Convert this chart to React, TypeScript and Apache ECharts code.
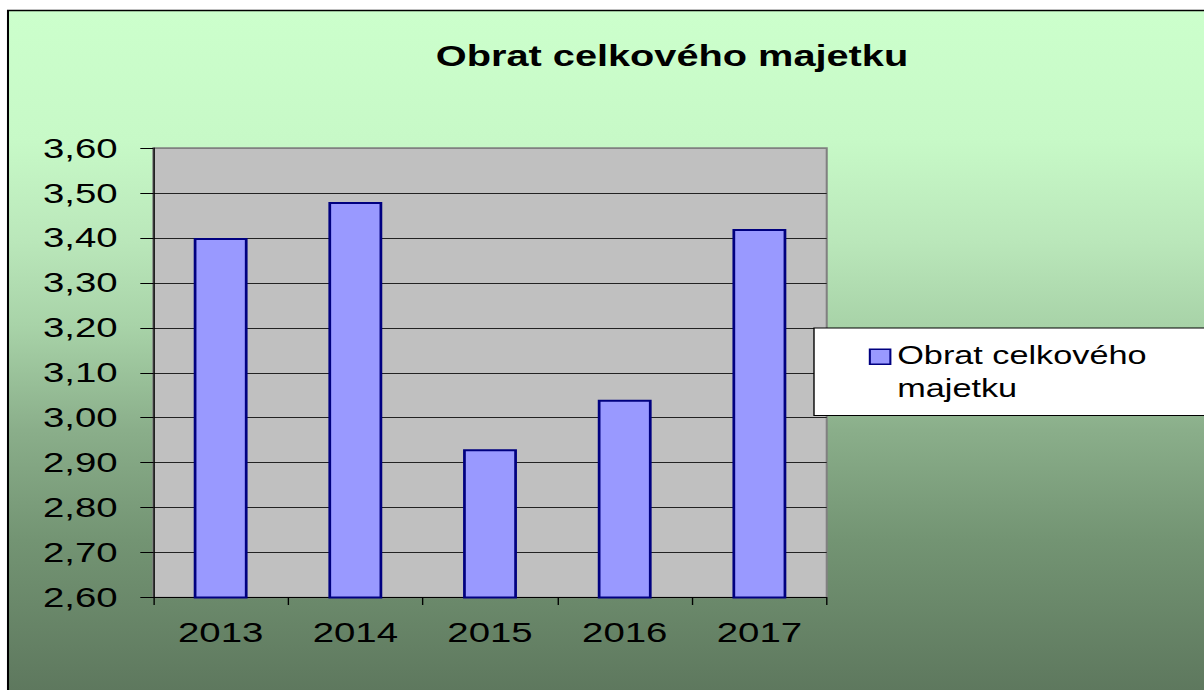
import React, { useEffect, useRef } from "react";
import * as echarts from "echarts";

const categories: string[] = ["2013", "2014", "2015", "2016", "2017"];
const seriesName = "Obrat celkového majetku";
const values: number[] = [3.4, 3.48, 2.93, 3.04, 3.42];
const titleText = "Obrat celkového majetku";
const yMin = 2.6;
const yMax = 3.6;
const yInterval = 0.1;

const S = 1.37; // horizontal stretch of the original picture
const PAGE_W = 1204;
const PAGE_H = 690;
const W = PAGE_W / S;

export default function App() {
  const ref = useRef<HTMLDivElement>(null);
  useEffect(() => {
    if (!ref.current) return;
    const chart = echarts.init(ref.current, null, { renderer: "svg" });
    const font = 'Arial, "Liberation Sans", sans-serif';
    const splitColors = [
      "#222", "#222", "#222", "#222", "#222", "#222", "#222", "#222", "#222", "#222", "#808080",
    ];
    const bg = new echarts.graphic.LinearGradient(0, 0, 0, 1, [
      { offset: 0, color: "#CCFFCC" },
      { offset: 0.186, color: "#C7F9C7" },
      { offset: 0.329, color: "#BAE7BA" },
      { offset: 0.45, color: "#A8D3A8" },
      { offset: 0.6, color: "#8AAE8A" },
      { offset: 0.757, color: "#739473" },
      { offset: 0.971, color: "#5E785E" },
      { offset: 1, color: "#5E785E" },
    ]);
    chart.setOption({
      animation: false,
      textStyle: { fontFamily: font },
      graphic: [
        {
          type: "rect",
          z: -10,
          silent: true,
          shape: { x: 8 / S, y: 10.5, width: 1000, height: 700 },
          style: { fill: bg, stroke: "#000", lineWidth: 1.5 },
        },
      ],
      title: {
        text: titleText,
        left: 672 / S,
        top: 41.5,
        padding: 0,
        textAlign: "center",
        textStyle: { fontFamily: font, fontSize: 29, fontWeight: "bold", color: "#000" },
      },
      legend: {
        show: true,
        left: 814 / S,
        top: 328,
        padding: [11, 80, 11, 40],
        backgroundColor: "#FFFFFF",
        borderColor: "#000",
        borderWidth: 1,
        borderRadius: 0,
        icon: "path://M0,0H15V15H0Z M0,45",
        itemWidth: 15,
        itemHeight: 45,
        itemStyle: { color: "#9999FF", borderColor: "#000080", borderWidth: 1.5 },
        formatter: (name: string) => name.replace(" majetku", "\nmajetku"),
        textStyle: { fontFamily: font, fontSize: 25, color: "#000", lineHeight: 32.7 },
        data: [seriesName],
      },
      grid: {
        left: 153.3 / S,
        right: W - 826.5 / S,
        top: 148,
        bottom: PAGE_H - 597.5,
        show: true,
        backgroundColor: "#C0C0C0",
        borderColor: "#808080",
        borderWidth: 1.5,
        containLabel: false,
        outerBoundsMode: "none",
      },
      xAxis: {
        type: "category",
        data: categories,
        boundaryGap: true,
        axisLine: { show: true, lineStyle: { color: "#000", width: 1 } },
        axisTick: { show: true, interval: 0, alignWithLabel: false, length: 7.5, lineStyle: { color: "#000", width: 1 } },
        axisLabel: { color: "#000", fontSize: 28, fontFamily: font, margin: 21, interval: 0 },
        splitLine: { show: false },
      },
      yAxis: {
        type: "value",
        min: yMin,
        max: yMax,
        interval: yInterval,
        axisLine: { show: true, lineStyle: { color: "#000", width: 1 } },
        axisTick: { show: true, length: 13 / S, lineStyle: { color: "#000", width: 1 } },
        axisLabel: {
          color: "#000",
          fontSize: 28,
          fontFamily: font,
          margin: 26,
          formatter: (v: number) => v.toFixed(2).replace(".", ","),
        },
        splitLine: { show: true, lineStyle: { color: splitColors, width: 1 } },
      },
      series: [
        {
          name: seriesName,
          type: "bar",
          data: values,
          barWidth: "40%",
          itemStyle: { color: "#9999FF", borderColor: "#000080", borderWidth: 2 },
        },
      ],
    });
    return () => chart.dispose();
  }, []);
  return (
    <div
      style={{
        position: "fixed",
        left: 0,
        top: 0,
        width: PAGE_W,
        height: PAGE_H,
        overflow: "hidden",
        background: "#fff",
      }}
    >
      <div
        ref={ref}
        style={{
          width: W,
          height: PAGE_H,
          transform: `scaleX(${S})`,
          transformOrigin: "0 0",
        }}
      />
    </div>
  );
}
